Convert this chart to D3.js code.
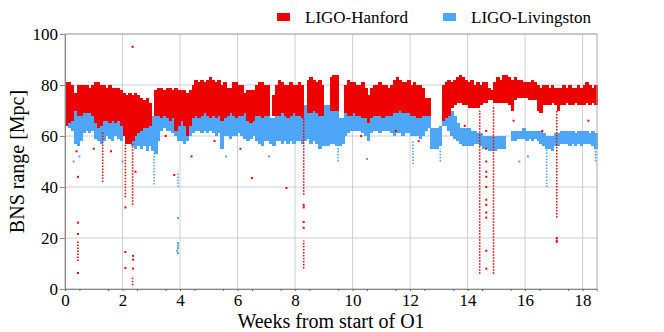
<!DOCTYPE html>
<html>
<head>
<meta charset="utf-8">
<script src="https://cdn.jsdelivr.net/npm/d3@7"></script>
<style>
body { margin: 0; background: #fff; }
</style>
</head>
<body>
<svg id="chart" width="664" height="332"></svg>
<script>
// sample weeks (0.1 week bins)
var weeks = [0,0.1,0.2,0.3,0.4,0.5,0.6,0.7,0.8,0.9,1,1.1,1.2,1.3,1.4,1.5,1.6,1.7,1.8,1.9,
  2,2.1,2.2,2.3,2.4,2.5,2.6,2.7,2.8,2.9,3,3.1,3.2,3.3,3.4,3.5,3.6,3.7,3.8,3.9,
  4,4.1,4.2,4.3,4.4,4.5,4.6,4.7,4.8,4.9,5,5.1,5.2,5.3,5.4,5.5,5.6,5.7,5.8,5.9,
  6,6.1,6.2,6.3,6.4,6.5,6.6,6.7,6.8,6.9,7,7.1,7.2,7.3,7.4,7.5,7.6,7.7,7.8,7.9,
  8,8.1,8.2,8.3,8.4,8.5,8.6,8.7,8.8,8.9,9,9.1,9.2,9.3,9.4,9.5,9.6,9.7,9.8,9.9,
  10,10.1,10.2,10.3,10.4,10.5,10.6,10.7,10.8,10.9,11,11.1,11.2,11.3,11.4,11.5,11.6,11.7,11.8,11.9,
  12,12.1,12.2,12.3,12.4,12.5,12.6,12.7,12.8,12.9,13,13.1,13.2,13.3,13.4,13.5,13.6,13.7,13.8,13.9,
  14,14.1,14.2,14.3,14.4,14.5,14.6,14.7,14.8,14.9,15,15.1,15.2,15.3,15.4,15.5,15.6,15.7,15.8,15.9,
  16,16.1,16.2,16.3,16.4,16.5,16.6,16.7,16.8,16.9,17,17.1,17.2,17.3,17.4,17.5,17.6,17.7,17.8,17.9,
  18,18.1,18.2,18.3,18.4];

// LIGO-Hanford: upper / lower edge of the dense cloud (Mpc)
var hanHi = [81,81,80,77,80,80,80,80,79,80, 81,81,80,80,79,80,79,79,79,78,
  77,76,77,76,77,76,75,74,75,73, null,78,79,79,78,79,79,78,79,78,
  78,78,77,78,80,82,81,82,81,82, 83,82,81,82,80,81,79,79,81,81,
  80,80,77,78,78,78,80,81,81,80, 80,null,76,80,82,81,80,80,81,80,
  80,81,80,null,82,83,82,81,82,80, null,null,83,84,84,null,null,80,82,81,
  81,80,80,81,79,76,79,80,80,81, 80,80,79,80,82,83,82,81,81,82,
  80,81,80,80,79,75,75,null,null,null, null,80,81,82,81,82,83,84,83,82,
  81,82,80,81,80,81,81,79,78,81, 83,82,84,84,83,82,83,82,82,81,
  81,81,82,81,80,79,80,80,79,80, 79,79,79,80,79,80,79,79,80,79,
  80,81,80,79,80];
var hanLo = [64,65,66,70,68,68,69,69,69,68, 65,63,64,66,66,65,66,65,66,64,
  60,57,57,58,60,61,62,63,63,64, null,68,68,67,68,67,66,67,62,64,
  66,64,60,64,67,68,67,68,69,68, 67,68,67,68,66,67,68,69,68,67,
  68,68,69,66,65,66,68,68,67,68, 68,null,68,68,68,69,68,67,68,69,
  68,68,67,null,69,69,70,69,68,68, null,null,70,70,70,null,null,69,68,68,
  69,68,68,67,67,65,67,68,68,68, 67,68,68,68,69,69,70,69,69,69,
  68,68,67,67,68,68,68,null,null,null, null,66,67,68,71,72,73,73,72,72,
  71,71,71,71,72,73,73,74,74,73, 73,73,73,73,72,70,74,75,75,75,
  75,74,74,74,70,69,72,72,72,73, 72,70,72,72,73,72,72,73,72,72,
  72,73,72,73,72];

// LIGO-Livingston
var livHi = [70,70,69,70,68,68,70,70,70,70, 70,70,70,70,70,70,70,70,70,69,
  66,65,65,65,65,66,65,65,66,67, 68,70,70,70,70,70,70,70,70,70,
  70,70,70,70,70,72,72,72,72,72, 72,72,72,72,72,72,72,72,72,72,
  72,72,72,72,72,70,69,69,69,69, 69,67,67,69,69,69,69,69,70,70,
  70,70,70,72,72,72,72,72,72,72, 72,72,72,72,72,67,67,72,72,72,
  72,72,72,72,72,72,73,73,73,73, 73,73,73,74,74,74,74,74,74,74,
  74,74,74,74,74,72,72,63,63,63, 64,74,73,72,70,68,65,63,63,63,
  63,62,62,61,61,60,60,60,60,60, 60,60,60,null,null,62,62,62,62,63,
  62,62,62,62,62,62,61,60,60,60, 61,61,62,62,62,62,62,61,62,62,
  62,62,61,62,61];
var livLo = [64,63,62,57,56,58,61,62,61,62, 59,58,57,58,60,59,58,60,59,58,
  60,60,58,56,55,56,55,56,54,56, 54,53,58,62,63,62,62,61,60,58,
  58,57,58,60,61,62,62,61,62,61, 62,61,60,61,55,60,60,59,60,60,
  61,60,59,58,59,60,58,57,56,58, 58,57,56,58,58,57,58,57,58,57,
  58,58,57,58,59,57,58,57,55,56, 56,56,57,57,56,56,57,60,61,62,
  62,62,62,61,60,58,61,62,62,61, 62,62,62,61,60,61,61,60,61,61,
  60,60,60,59,60,62,63,55,55,55, 56,64,64,62,60,59,58,57,56,56,
  56,56,57,57,56,55,55,54,54,54, 55,55,55,null,null,58,58,59,59,59,
  58,59,58,59,58,57,56,55,55,54, 56,56,57,57,57,56,57,56,57,56,
  57,57,57,56,55];

// drops below the bands: [week, low, high]
var hanDrips = [[0.45,11,19],[1.31,42,62],[2.1,36,57],[2.35,33,57],[2.35,1.5,5],
  [8.3,37,67],[8.3,8,19],[14.42,6,70],[14.9,6,72],[17.1,28,70]];
var livDrips = [[3.1,41,53],[3.93,40,46],[16.75,40,55],[18.45,50,56],[13.05,50,55],[9.5,50,56],[12.1,49,58]];

// single points: [week, Mpc]
var hanPts = [[0.45,44],[0.45,26],[0.45,21.6],[0.45,6.3],[0.4,54],[2.1,32],[2.1,14.5],[2.1,8.2],
  [2.35,95],[2.37,13],[2.37,11.5],[2.37,8],[2.45,46],[3.8,44.7],[6.5,43.5],[7.7,39.6],
  [8.3,33],[8.3,32],[8.3,26.3],[8.3,24],[14.65,46],[14.65,44],[14.65,40],[14.65,35],[14.65,33],
  [14.65,30],[14.65,28],[14.65,15],[14.65,8],[14.65,50],[14.65,55],[14.65,62],[17.1,20],[17.1,19],
  [17.1,18.5],[1.0,55],[1.6,54],[3.5,60],[4.4,52],[5.2,58],[6.1,55],[10.3,60],[11.5,62],
  [12.3,58],[13.9,64],[15.6,66],[16.6,62],[18.2,66]];
var livPts = [[3.93,27.8],[3.93,18],[3.93,17],[3.93,16],[3.9,15],[3.93,14.1],[0.3,50],[0.5,52],
  [2.0,50],[5.6,52],[7.1,52],[10.5,51],[15.8,50],[16.1,52]];

var xTicks = [0,2,4,6,8,10,12,14,16,18];
var yTicks = [0,20,40,60,80,100];

var red = "#ee0000", blue = "#4da6f8";
var serif = "'Liberation Serif', 'Times New Roman', Times, 'DejaVu Serif', serif";

var svg = d3.select("#chart"),
    margin = {top: 34, right: 67, bottom: 43, left: 65},
    width = +svg.attr("width") - margin.left - margin.right,
    height = +svg.attr("height") - margin.top - margin.bottom;

var x = d3.scaleLinear().domain([0, 18.5]).range([0, width]);
var y = d3.scaleLinear().domain([0, 100]).range([height, 0]);

var g = svg.append("g").attr("transform", "translate(" + margin.left + "," + margin.top + ")");

// grid
g.append("g").selectAll("line").data(xTicks.slice(1)).enter().append("line")
  .attr("x1", x).attr("x2", x).attr("y1", 0).attr("y2", height)
  .attr("stroke", "#cfcfcf").attr("stroke-width", 1);
g.append("g").selectAll("line").data(yTicks.slice(1)).enter().append("line")
  .attr("y1", y).attr("y2", y).attr("x1", 0).attr("x2", width)
  .attr("stroke", "#cfcfcf").attr("stroke-width", 1);

var bw = x(0.1) - x(0) + 0.6;

function drawSeries(hi, lo, drips, pts, col) {
  var s = g.append("g");
  s.selectAll("rect.band").data(weeks.map(function(w, i) { return [w, lo[i], hi[i]]; })
      .filter(function(d) { return d[2] != null; }))
    .enter().append("rect")
    .attr("x", function(d) { return x(d[0]); })
    .attr("width", bw)
    .attr("y", function(d) { return y(d[2]); })
    .attr("height", function(d) { return y(d[1]) - y(d[2]); })
    .attr("shape-rendering", "crispEdges")
    .attr("fill", col);
  s.selectAll("line").data(drips).enter().append("line")
    .attr("x1", function(d) { return x(d[0]); })
    .attr("x2", function(d) { return x(d[0]); })
    .attr("y1", function(d) { return y(d[1]); })
    .attr("y2", function(d) { return y(d[2]); })
    .attr("stroke", col).attr("stroke-width", 1.6)
    .attr("stroke-dasharray", "1.5,1.5");
  s.selectAll("rect.pt").data(pts).enter().append("rect")
    .attr("x", function(d) { return x(d[0]) - 1; })
    .attr("y", function(d) { return y(d[1]) - 1; })
    .attr("width", 2).attr("height", 2)
    .attr("fill", col);
}

drawSeries(livHi, livLo, livDrips, livPts, blue);
drawSeries(hanHi, hanLo, hanDrips, hanPts, red);

// frame
g.append("rect").attr("x", 0).attr("y", 0).attr("width", width).attr("height", height)
  .attr("fill", "none").attr("stroke", "#aaa");

// axes
var yAxis = g.append("g").call(d3.axisLeft(y).tickValues(yTicks).tickSize(5).tickPadding(2));
yAxis.select(".domain").attr("stroke", "#888");
yAxis.selectAll(".tick line").attr("stroke", "#888");

var xAxis = g.append("g").attr("transform", "translate(0," + height + ")")
  .call(d3.axisBottom(x).tickValues(xTicks).tickSize(2).tickPadding(3));
xAxis.select(".domain").attr("stroke", "#888");
xAxis.selectAll(".tick line").attr("stroke", "#666");

g.append("g").attr("transform", "translate(0," + height + ")")
  .call(d3.axisBottom(x).tickValues(d3.range(0.5, 18.5, 1)).tickSize(2).tickFormat(""))
  .call(function(a) { a.select(".domain").remove(); a.selectAll("line").attr("stroke", "#666"); });

svg.selectAll(".tick text").style("font-size", "17px").attr("fill", "#000");

svg.append("text")
  .attr("transform", "translate(24," + (margin.top + height / 2) + ") rotate(-90)")
  .attr("text-anchor", "middle").style("font-size", "20px").text("BNS range [Mpc]");
svg.append("text")
  .attr("x", margin.left + width / 2).attr("y", 328)
  .attr("text-anchor", "middle").style("font-size", "20px").text("Weeks from start of O1");

// legend
var legend = svg.append("g").selectAll("g")
  .data([["LIGO-Hanford", red, 277], ["LIGO-Livingston", blue, 443]])
  .enter().append("g");
legend.append("rect").attr("x", function(d) { return d[2]; }).attr("y", 13)
  .attr("width", 13).attr("height", 8).attr("fill", function(d) { return d[1]; });
legend.append("text")
  .attr("x", function(d) { return d[2] + 28; }).attr("y", 23)
  .style("font-size", "17px")
  .text(function(d) { return d[0]; });

svg.selectAll("text").style("font-family", serif);
</script>
</body>
</html>
